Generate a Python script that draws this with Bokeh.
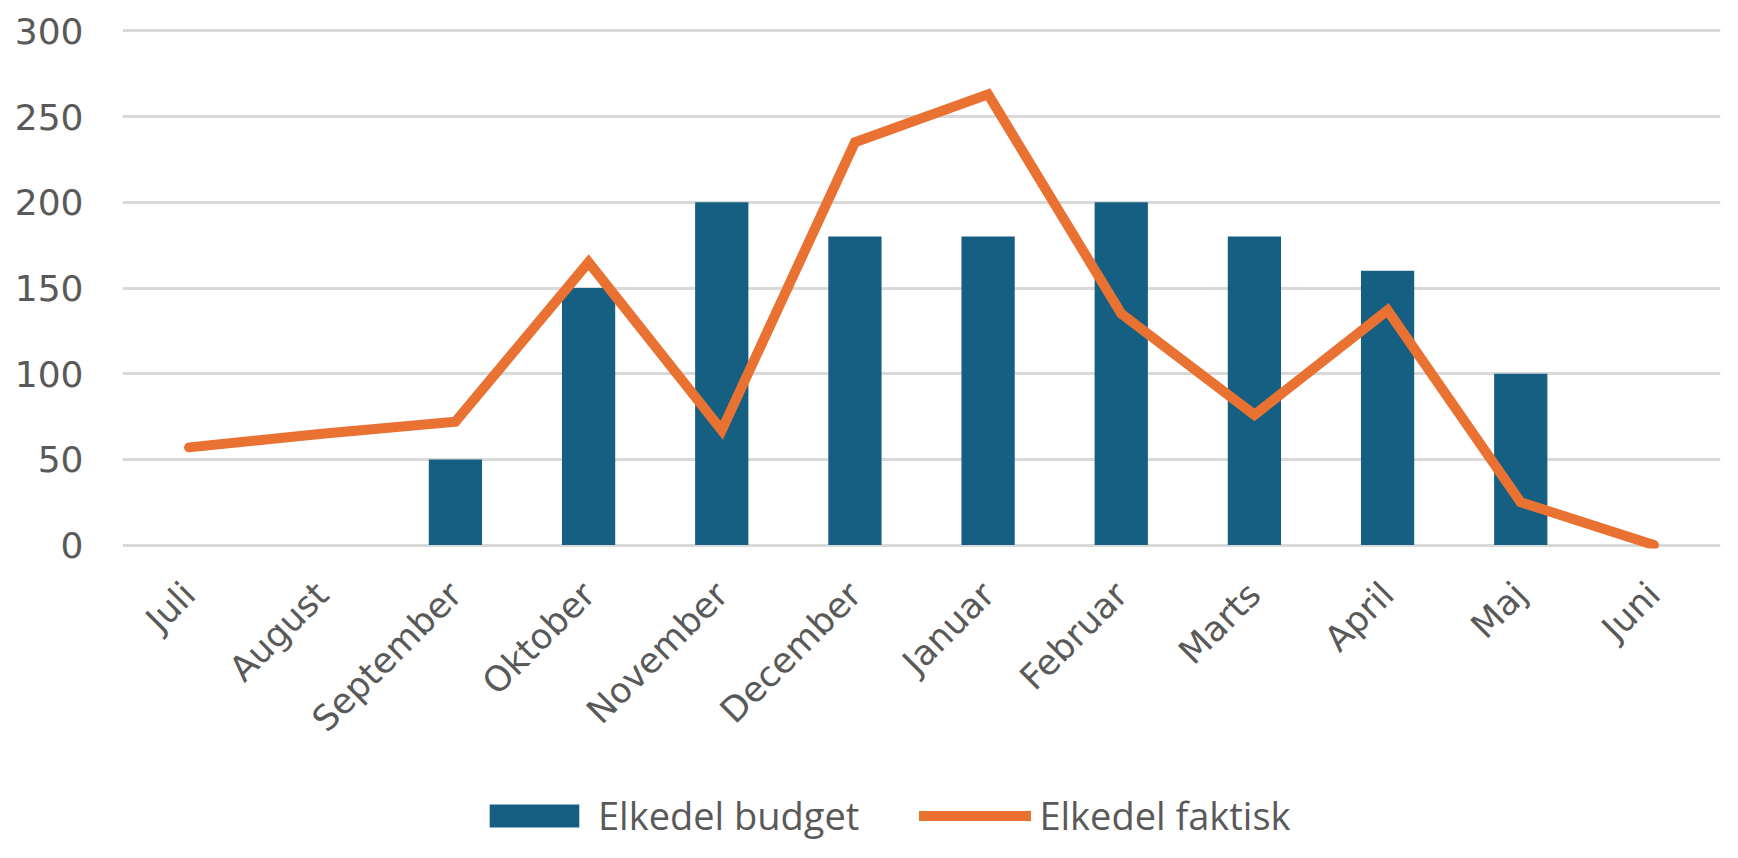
import math
from bokeh.plotting import figure
from bokeh.layouts import column
from bokeh.models import FactorRange, Range1d, FixedTicker, Legend, LegendItem
from bokeh.embed import file_html
from bokeh.resources import INLINE

months = ["Juli", "August", "September", "Oktober", "November", "December",
          "Januar", "Februar", "Marts", "April", "Maj", "Juni"]
budget = [0, 0, 50, 150, 200, 180, 180, 200, 180, 160, 100, 0]
actual = [57, 65, 72, 165, 67, 235, 263, 135, 76, 137, 25, 0]
y_ticks = [0, 50, 100, 150, 200, 250, 300]
series_names = ["Elkedel budget", "Elkedel faktisk"]

BAR = "#156082"
LINE = "#E97132"
TXT = "#595959"

p = figure(width=1722, height=786, output_backend="svg", toolbar_location=None,
           x_range=FactorRange(*months, range_padding=0),
           y_range=Range1d(-2, 302),
           min_border_left=122, min_border_right=2, min_border_top=27, min_border_bottom=238)
p.outline_line_color = None
p.background_fill_color = "white"
p.border_fill_color = "white"

bars = p.vbar(x=months, top=budget, width=0.4, fill_color=BAR, line_color=None)
ln = p.line(x=months, y=actual, line_color=LINE, line_width=10,
            line_cap="round", line_join="miter")

p.xgrid.grid_line_color = None
p.ygrid.grid_line_color = "#D9D9D9"
p.ygrid.grid_line_width = 3
p.yaxis.ticker = FixedTicker(ticks=y_ticks)

for ax in (p.xaxis[0], p.yaxis[0]):
    ax.axis_line_color = None
    ax.major_tick_line_color = None
    ax.minor_tick_line_color = None
    ax.major_label_text_color = TXT
    ax.major_label_text_font = "DejaVu Sans"

p.yaxis.major_label_text_font_size = "36px"
p.yaxis.major_label_standoff = 33
p.xaxis.major_label_text_font_size = "35px"
p.xaxis.major_label_orientation = math.pi / 4
p.xaxis.major_label_standoff = 34

# Legend strip below the chart (hidden copies of the series provide the keys)
lf = figure(width=1722, height=56, output_backend="svg", toolbar_location=None,
            x_range=FactorRange(*months), y_range=Range1d(0, 1),
            x_axis_location=None, y_axis_location=None, min_border=0)
lf.outline_line_color = None
lf.grid.visible = False
kb = lf.vbar(x=months, top=budget, width=0.4, fill_color=BAR, line_color=None, visible=False)
kl = lf.line(x=months, y=actual, line_color=LINE, line_width=10, line_cap="round", visible=False)

legend = Legend(items=[LegendItem(label=series_names[0], renderers=[kb]),
                       LegendItem(label=series_names[1], renderers=[kl])],
                orientation="horizontal", location=(356, 1),
                border_line_color=None, background_fill_alpha=0,
                padding=0, margin=0, spacing=60, label_standoff=8,
                glyph_width=112, glyph_height=29,
                label_text_font="Open Sans", label_text_font_size="38px",
                label_text_color=TXT)
lf.add_layout(legend, "center")

layout = column(p, lf, spacing=0)
open("out.html", "w").write(file_html(layout, INLINE))
